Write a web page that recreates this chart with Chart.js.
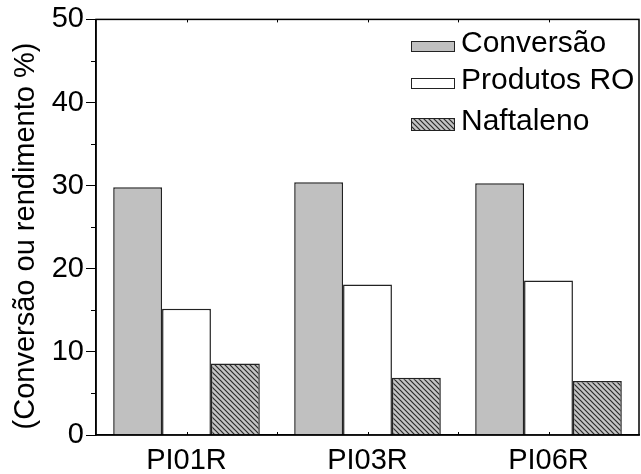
<!DOCTYPE html>
<html>
<head>
<meta charset="utf-8">
<script src="https://cdn.jsdelivr.net/npm/chart.js@4.4.1/dist/chart.umd.min.js"></script>
<style>
  html, body { margin: 0; padding: 0; background: #fff; }
  #wrap { width: 641px; height: 474px; }
</style>
</head>
<body>
<div id="wrap"><canvas id="myBarChart"></canvas></div>
<script>
// samples and measured values (%)
const categories = ['PI01R', 'PI03R', 'PI06R'];
const conversao = [29.8, 30.4, 30.3];
const produtosRO = [15.2, 18.1, 18.6];
const naftaleno = [8.6, 6.9, 6.5];
const yTicks = [0, 10, 20, 30, 40, 50];
const yMinorTicks = [5, 15, 25, 35, 45];
const yTitle = '(Conversão ou rendimento %)';

const FONT = '"Liberation Sans", Arial, sans-serif';

// diagonal hatch fill for the naphthalene bars
function makeHatch() {
  const s = 5;
  const c = document.createElement('canvas');
  c.width = s; c.height = s;
  const g = c.getContext('2d');
  g.fillStyle = '#c4c4c4';
  g.fillRect(0, 0, s, s);
  g.strokeStyle = '#2a2a2a';
  g.lineWidth = 1.2;
  g.beginPath();
  g.moveTo(-1, -1); g.lineTo(s + 1, s + 1);
  g.moveTo(s - 1, -1); g.lineTo(s + 1, 1);
  g.moveTo(-1, s - 1); g.lineTo(1, s + 1);
  g.stroke();
  return g.createPattern(c, 'repeat');
}

// frame, minor ticks, axis title and the legend in the top right
const framePlugin = {
  id: 'frame',
  afterDraw(chart) {
    const ctx = chart.ctx;
    const a = chart.chartArea;
    const y = chart.scales.y;
    ctx.save();
    ctx.strokeStyle = '#000';
    ctx.lineWidth = 1.5;
    ctx.strokeRect(a.left, a.top, a.right - a.left, a.bottom - a.top);

    ctx.beginPath();
    yMinorTicks.forEach(v => {
      const py = Math.round(y.getPixelForValue(v)) + 0.5;
      ctx.moveTo(a.left - 5, py); ctx.lineTo(a.left, py);
    });
    // small marks at centres and boundaries of each sample
    const n = categories.length;
    const w = (a.right - a.left) / n;
    for (let i = 1; i < 2 * n; i++) {
      const px = Math.round(a.left + w / 2 * i) + 0.5;
      ctx.moveTo(px, a.bottom); ctx.lineTo(px, a.bottom - 3);
      ctx.moveTo(px, a.top); ctx.lineTo(px, a.top + 3);
    }
    ctx.lineWidth = 1;
    ctx.stroke();

    // y title
    ctx.save();
    ctx.translate(26, 236);
    ctx.rotate(-Math.PI / 2);
    ctx.font = '29px ' + FONT;
    ctx.fillStyle = '#000';
    ctx.textAlign = 'center';
    ctx.textBaseline = 'middle';
    ctx.fillText(yTitle, 0, 0);
    ctx.restore();

    // legend
    const rows = [44, 81, 122];
    ctx.font = '30px ' + FONT;
    ctx.textBaseline = 'middle';
    chart.data.datasets.forEach((ds, i) => {
      const cy = rows[i];
      const h = i === 2 ? 12 : 10;
      ctx.fillStyle = ds.backgroundColor;
      ctx.fillRect(411, cy + 2 - h / 2, 43, h);
      ctx.strokeStyle = '#222';
      ctx.lineWidth = 1;
      ctx.strokeRect(411.5, cy + 2 - h / 2 + 0.5, 43, h);
      ctx.fillStyle = '#000';
      ctx.fillText(ds.label, 461, cy);
    });
    ctx.restore();
  }
};

function setupBarChart() {
  const ctx = document.getElementById('myBarChart');
  return new Chart(ctx, {
    type: 'bar',
    data: {
      labels: categories,
      datasets: [
        { label: 'Conversão', data: conversao, backgroundColor: '#c0c0c0' },
        { label: 'Produtos RO', data: produtosRO, backgroundColor: '#ffffff' },
        { label: 'Naftaleno', data: naftaleno, backgroundColor: makeHatch() }
      ].map(d => Object.assign(d, {
        borderColor: '#222', borderWidth: 1.5,
        categoryPercentage: 0.81, barPercentage: 1
      }))
    },
    options: {
      responsive: true,
      maintainAspectRatio: false,
      animation: false,
      layout: { padding: { top: 19, right: 2, left: 0, bottom: 0 } },
      plugins: { legend: { display: false }, tooltip: { enabled: false } },
      scales: {
        x: {
          grid: { display: false },
          border: { color: '#000', width: 1.5 },
          ticks: { color: '#000', font: { family: FONT, size: 29 }, padding: 1, maxRotation: 0 },
          afterFit(s) { s.height = 39; }
        },
        y: {
          min: 0, max: 50,
          afterBuildTicks(s) { s.ticks = yTicks.map(v => ({ value: v })); },
          grid: { drawOnChartArea: false, drawTicks: true, tickLength: 10, color: '#000', lineWidth: 1 },
          border: { color: '#000', width: 1.5 },
          ticks: { color: '#000', font: { family: FONT, size: 29 }, padding: 2 },
          afterFit(s) { s.width = 96; }
        }
      }
    },
    plugins: [framePlugin]
  });
}

setupBarChart();
</script>
</body>
</html>
